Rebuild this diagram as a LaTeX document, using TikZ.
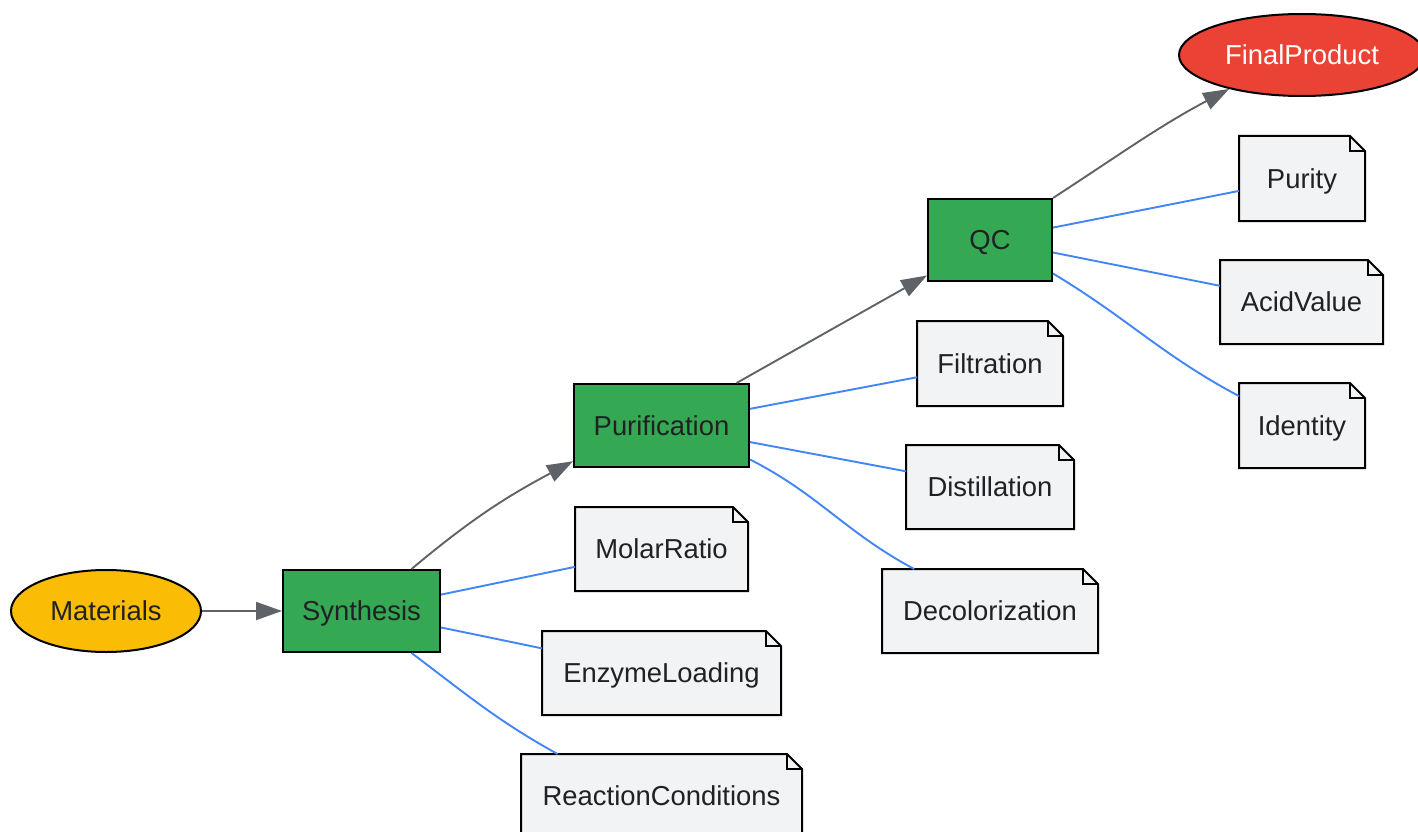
\documentclass[tikz,border=0pt]{standalone}
\usepackage{fontspec}
\setmainfont{Liberation Sans}
\usetikzlibrary{shapes.geometric,arrows.meta}
\definecolor{gGreen}{HTML}{34A853}
\definecolor{gYellow}{HTML}{FBBC05}
\definecolor{gRed}{HTML}{EA4335}
\definecolor{gBlue}{HTML}{4285F4}
\definecolor{gGray}{HTML}{5F6368}
\definecolor{noteFill}{HTML}{F1F3F4}
\definecolor{txt}{HTML}{202124}
\tikzset{
  base/.style={font=\fontsize{27.4}{32}\selectfont, text=txt, inner sep=0pt, line width=2pt, text height=25.6pt, text depth=6pt},
  oval/.style={base, ellipse, draw=black},
  procbox/.style={base, rectangle, draw=black, fill=gGreen},
  notebox/.style={base, rectangle},
  arr/.style={draw=gGray, line width=1.9pt, -{Triangle[length=26pt,width=18pt]}},
  link/.style={draw=gBlue, line width=1.9pt},
  notebd/.style={draw=black, line width=2pt, line join=miter}
}
\begin{document}
\begin{tikzpicture}[x=1pt,y=1pt]
\useasboundingbox (0,0) rectangle (1418,-832);
% main nodes
\node[oval, fill=gYellow, minimum width=190pt, minimum height=82pt] (mat) at (106,-611) {Materials};
\node[procbox, minimum width=157pt, minimum height=82pt] (syn) at (361.5,-611) {Synthesis};
\node[procbox, minimum width=175pt, minimum height=83pt] (pur) at (661.5,-425.5) {Purification};
\node[procbox, minimum width=124pt, minimum height=82pt] (qc) at (990,-240) {QC};
\node[oval, fill=gRed, text=white, minimum width=246pt, minimum height=82pt] (fin) at (1302,-55) {FinalProduct};
% note nodes
\node[notebox, minimum width=124pt, minimum height=83pt] (purity) at (1302,-178.5) {};
\node[notebox, minimum width=161pt, minimum height=82pt] (acid) at (1301.5,-302) {};
\node[notebox, minimum width=124pt, minimum height=83pt] (ident) at (1302,-425.5) {};
\node[notebox, minimum width=144pt, minimum height=83pt] (filt) at (990,-363.5) {};
\node[notebox, minimum width=166pt, minimum height=82pt] (dist) at (990,-487) {};
\node[notebox, minimum width=214pt, minimum height=82pt] (deco) at (990,-611) {};
\node[notebox, minimum width=171pt, minimum height=82pt] (molar) at (661.5,-549) {};
\node[notebox, minimum width=237pt, minimum height=82pt] (enzy) at (661.5,-673) {};
\node[notebox, minimum width=279pt, minimum height=82pt] (rc) at (661.5,-796) {};
\foreach \n in {purity,acid,ident,filt,dist,deco,molar,enzy,rc}{
  \filldraw[notebd, fill=noteFill] (\n.south west) -- (\n.north west) -- ([xshift=-15pt]\n.north east) -- ([yshift=-15pt]\n.north east) -- (\n.south east) -- cycle;
  \draw[notebd] ([xshift=-15pt]\n.north east) |- ([yshift=-15pt]\n.north east);
}
\node[base] at (purity) {Purity};
\node[base] at (acid) {AcidValue};
\node[base] at (ident) {Identity};
\node[base] at (filt) {Filtration};
\node[base] at (dist) {Distillation};
\node[base] at (deco) {Decolorization};
\node[base] at (molar) {MolarRatio};
\node[base] at (enzy) {EnzymeLoading};
\node[base] at (rc) {ReactionConditions};
% arrows
\draw[arr] (mat) -- (syn);
\draw[arr] (syn.40) to[out=40,in=208] (pur.202);
\draw[arr] (pur) -- (qc);
\draw[arr] (qc.north east) to[out=33,in=208] (fin.205);
% links
\draw[link] (syn) -- (molar);
\draw[link] (syn) -- (enzy);
\draw[link] (syn.-40) to[out=-37,in=151] (rc.158);
\draw[link] (pur) -- (filt);
\draw[link] (pur) -- (dist);
\draw[link] (pur.-21.5) to[out=-27,in=152] (deco.151.6);
\draw[link] (qc) -- (purity);
\draw[link] (qc) -- (acid);
\draw[link] (qc.-28) to[out=-31,in=152] (ident.155);
\end{tikzpicture}
\end{document}
